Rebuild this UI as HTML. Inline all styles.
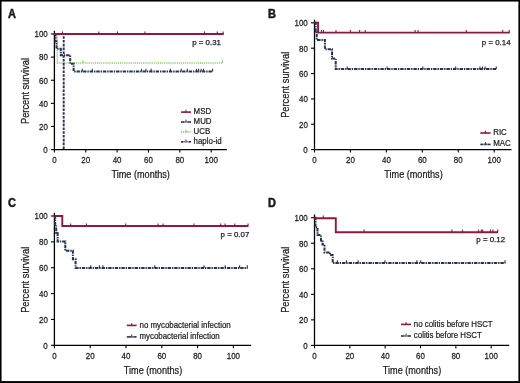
<!DOCTYPE html>
<html><head><meta charset="utf-8"><style>
html,body{margin:0;padding:0;background:#fff;}
body{width:520px;height:383px;overflow:hidden;}
svg{display:block;filter:saturate(1);}
text{font-family:"Liberation Sans", sans-serif;fill:#1a1a1a;stroke:#1a1a1a;stroke-width:0.25px;}
</style></head><body>
<svg width="520" height="383" viewBox="0 0 520 383">
<rect x="0" y="0" width="520" height="383" fill="#fff"/>
<line x1="54.4" y1="149.6" x2="54.4" y2="30.8" stroke="#000" stroke-width="1.3"/>
<line x1="53.75" y1="149.6" x2="226.9" y2="149.6" stroke="#000" stroke-width="1.3"/>
<line x1="50.9" y1="149.60" x2="54.4" y2="149.60" stroke="#000" stroke-width="1.1"/>
<line x1="54.40" y1="149.6" x2="54.40" y2="152.6" stroke="#000" stroke-width="1.1"/>
<line x1="50.9" y1="126.48" x2="54.4" y2="126.48" stroke="#000" stroke-width="1.1"/>
<line x1="85.76" y1="149.6" x2="85.76" y2="152.6" stroke="#000" stroke-width="1.1"/>
<line x1="50.9" y1="103.36" x2="54.4" y2="103.36" stroke="#000" stroke-width="1.1"/>
<line x1="117.12" y1="149.6" x2="117.12" y2="152.6" stroke="#000" stroke-width="1.1"/>
<line x1="50.9" y1="80.24" x2="54.4" y2="80.24" stroke="#000" stroke-width="1.1"/>
<line x1="148.48" y1="149.6" x2="148.48" y2="152.6" stroke="#000" stroke-width="1.1"/>
<line x1="50.9" y1="57.12" x2="54.4" y2="57.12" stroke="#000" stroke-width="1.1"/>
<line x1="179.84" y1="149.6" x2="179.84" y2="152.6" stroke="#000" stroke-width="1.1"/>
<line x1="50.9" y1="34.00" x2="54.4" y2="34.00" stroke="#000" stroke-width="1.1"/>
<line x1="211.20" y1="149.6" x2="211.20" y2="152.6" stroke="#000" stroke-width="1.1"/>
<path d="M54.50,34.00 L57.30,34.00 L57.30,62.90 L223.00,62.90" fill="none" stroke="#8fc46a" stroke-width="1.5" stroke-dasharray="1.1,1.0"/>
<line x1="83.00" y1="62.90" x2="83.00" y2="60.30" stroke="#8fc46a" stroke-width="1.1"/>
<line x1="222.50" y1="62.90" x2="222.50" y2="60.30" stroke="#8fc46a" stroke-width="1.1"/>
<path d="M54.50,34.00 L55.50,34.00 L55.50,41.50 L56.50,41.50 L56.50,48.80 L60.80,48.80 L60.80,55.30 L70.20,55.30 L70.20,63.80 L73.60,63.80 L73.60,71.40 L213.00,71.40" fill="none" stroke="#283253" stroke-width="2.0" stroke-dasharray="3.4,0.9,1.4,0.9"/>
<line x1="82.30" y1="71.40" x2="82.30" y2="68.80" stroke="#283253" stroke-width="1.1"/>
<line x1="92.30" y1="71.40" x2="92.30" y2="68.80" stroke="#283253" stroke-width="1.1"/>
<line x1="141.50" y1="71.40" x2="141.50" y2="68.80" stroke="#283253" stroke-width="1.1"/>
<line x1="146.00" y1="71.40" x2="146.00" y2="68.80" stroke="#283253" stroke-width="1.1"/>
<line x1="151.20" y1="71.40" x2="151.20" y2="68.80" stroke="#283253" stroke-width="1.1"/>
<line x1="170.40" y1="71.40" x2="170.40" y2="68.80" stroke="#283253" stroke-width="1.1"/>
<line x1="181.20" y1="71.40" x2="181.20" y2="68.80" stroke="#283253" stroke-width="1.1"/>
<line x1="187.30" y1="71.40" x2="187.30" y2="68.80" stroke="#283253" stroke-width="1.1"/>
<line x1="196.50" y1="71.40" x2="196.50" y2="68.80" stroke="#283253" stroke-width="1.1"/>
<line x1="198.60" y1="71.40" x2="198.60" y2="68.80" stroke="#283253" stroke-width="1.1"/>
<line x1="201.20" y1="71.40" x2="201.20" y2="68.80" stroke="#283253" stroke-width="1.1"/>
<line x1="203.50" y1="71.40" x2="203.50" y2="68.80" stroke="#283253" stroke-width="1.1"/>
<line x1="212.60" y1="71.40" x2="212.60" y2="68.80" stroke="#283253" stroke-width="1.1"/>
<path d="M54.50,34.00 L63.70,34.00 L63.70,149.60" fill="none" stroke="#33275f" stroke-width="1.9" stroke-dasharray="2.6,1.2"/>
<path d="M54.50,34.00 L223.70,34.00" fill="none" stroke="#8a1b3c" stroke-width="1.9"/>
<line x1="62.50" y1="34.00" x2="62.50" y2="31.40" stroke="#8a1b3c" stroke-width="1.1"/>
<line x1="98.80" y1="34.00" x2="98.80" y2="31.40" stroke="#8a1b3c" stroke-width="1.1"/>
<line x1="117.50" y1="34.00" x2="117.50" y2="31.40" stroke="#8a1b3c" stroke-width="1.1"/>
<line x1="145.00" y1="34.00" x2="145.00" y2="31.40" stroke="#8a1b3c" stroke-width="1.1"/>
<line x1="204.50" y1="34.00" x2="204.50" y2="31.40" stroke="#8a1b3c" stroke-width="1.1"/>
<line x1="217.30" y1="34.00" x2="217.30" y2="31.40" stroke="#8a1b3c" stroke-width="1.1"/>
<line x1="223.10" y1="34.00" x2="223.10" y2="31.40" stroke="#8a1b3c" stroke-width="1.1"/>
<line x1="181" y1="112.1" x2="191" y2="112.1" stroke="#8a1b3c" stroke-width="1.6"/>
<line x1="186.0" y1="112.89999999999999" x2="186.0" y2="109.69999999999999" stroke="#8a1b3c" stroke-width="1"/>
<line x1="181.00" y1="122.0" x2="184.20" y2="122.0" stroke="#283253" stroke-width="1.6"/>
<line x1="184.40" y1="122.0" x2="185.30" y2="122.0" stroke="#283253" stroke-width="1.6"/>
<line x1="186.70" y1="122.0" x2="187.60" y2="122.0" stroke="#283253" stroke-width="1.6"/>
<line x1="187.80" y1="122.0" x2="191.00" y2="122.0" stroke="#283253" stroke-width="1.6"/>
<line x1="186.0" y1="122.8" x2="186.0" y2="119.6" stroke="#283253" stroke-width="1"/>
<line x1="181" y1="131.9" x2="191" y2="131.9" stroke="#8fc46a" stroke-width="1.6" stroke-dasharray="1.1,1.0"/>
<line x1="186.0" y1="132.70000000000002" x2="186.0" y2="129.5" stroke="#8fc46a" stroke-width="1"/>
<line x1="181.00" y1="141.8" x2="183.60" y2="141.8" stroke="#33275f" stroke-width="1.6"/>
<line x1="184.40" y1="141.8" x2="185.30" y2="141.8" stroke="#33275f" stroke-width="1.6"/>
<line x1="186.70" y1="141.8" x2="187.60" y2="141.8" stroke="#33275f" stroke-width="1.6"/>
<line x1="188.40" y1="141.8" x2="191.00" y2="141.8" stroke="#33275f" stroke-width="1.6"/>
<line x1="186.0" y1="142.60000000000002" x2="186.0" y2="139.4" stroke="#33275f" stroke-width="1"/>
<line x1="314.5" y1="149.6" x2="314.5" y2="19.650000000000002" stroke="#000" stroke-width="1.3"/>
<line x1="313.85" y1="149.6" x2="511.5" y2="149.6" stroke="#000" stroke-width="1.3"/>
<line x1="311.0" y1="149.60" x2="314.5" y2="149.60" stroke="#000" stroke-width="1.1"/>
<line x1="314.50" y1="149.6" x2="314.50" y2="152.6" stroke="#000" stroke-width="1.1"/>
<line x1="311.0" y1="124.25" x2="314.5" y2="124.25" stroke="#000" stroke-width="1.1"/>
<line x1="350.44" y1="149.6" x2="350.44" y2="152.6" stroke="#000" stroke-width="1.1"/>
<line x1="311.0" y1="98.90" x2="314.5" y2="98.90" stroke="#000" stroke-width="1.1"/>
<line x1="386.38" y1="149.6" x2="386.38" y2="152.6" stroke="#000" stroke-width="1.1"/>
<line x1="311.0" y1="73.55" x2="314.5" y2="73.55" stroke="#000" stroke-width="1.1"/>
<line x1="422.32" y1="149.6" x2="422.32" y2="152.6" stroke="#000" stroke-width="1.1"/>
<line x1="311.0" y1="48.20" x2="314.5" y2="48.20" stroke="#000" stroke-width="1.1"/>
<line x1="458.26" y1="149.6" x2="458.26" y2="152.6" stroke="#000" stroke-width="1.1"/>
<line x1="311.0" y1="22.85" x2="314.5" y2="22.85" stroke="#000" stroke-width="1.1"/>
<line x1="494.20" y1="149.6" x2="494.20" y2="152.6" stroke="#000" stroke-width="1.1"/>
<path d="M314.50,22.80 L315.70,22.80 L315.70,31.40 L316.70,31.40 L316.70,40.00 L324.90,40.00 L324.90,49.30 L332.00,49.30 L332.00,58.50 L335.70,58.50 L335.70,69.10 L496.80,69.10" fill="none" stroke="#283253" stroke-width="2.0" stroke-dasharray="3.4,0.9,1.4,0.9"/>
<line x1="347.30" y1="69.10" x2="347.30" y2="66.50" stroke="#283253" stroke-width="1.1"/>
<line x1="387.10" y1="69.10" x2="387.10" y2="66.50" stroke="#283253" stroke-width="1.1"/>
<line x1="422.80" y1="69.10" x2="422.80" y2="66.50" stroke="#283253" stroke-width="1.1"/>
<line x1="455.70" y1="69.10" x2="455.70" y2="66.50" stroke="#283253" stroke-width="1.1"/>
<line x1="479.90" y1="69.10" x2="479.90" y2="66.50" stroke="#283253" stroke-width="1.1"/>
<line x1="482.50" y1="69.10" x2="482.50" y2="66.50" stroke="#283253" stroke-width="1.1"/>
<line x1="485.10" y1="69.10" x2="485.10" y2="66.50" stroke="#283253" stroke-width="1.1"/>
<line x1="496.30" y1="69.10" x2="496.30" y2="66.50" stroke="#283253" stroke-width="1.1"/>
<path d="M314.50,22.80 L318.10,22.80 L318.10,32.60 L509.80,32.60" fill="none" stroke="#8a1b3c" stroke-width="1.9"/>
<line x1="321.50" y1="32.60" x2="321.50" y2="30.00" stroke="#8a1b3c" stroke-width="1.1"/>
<line x1="323.50" y1="32.60" x2="323.50" y2="30.00" stroke="#8a1b3c" stroke-width="1.1"/>
<line x1="336.00" y1="32.60" x2="336.00" y2="30.00" stroke="#8a1b3c" stroke-width="1.1"/>
<line x1="350.40" y1="32.60" x2="350.40" y2="30.00" stroke="#8a1b3c" stroke-width="1.1"/>
<line x1="359.60" y1="32.60" x2="359.60" y2="30.00" stroke="#8a1b3c" stroke-width="1.1"/>
<line x1="365.20" y1="32.60" x2="365.20" y2="30.00" stroke="#8a1b3c" stroke-width="1.1"/>
<line x1="415.10" y1="32.60" x2="415.10" y2="30.00" stroke="#8a1b3c" stroke-width="1.1"/>
<line x1="418.10" y1="32.60" x2="418.10" y2="30.00" stroke="#8a1b3c" stroke-width="1.1"/>
<line x1="466.30" y1="32.60" x2="466.30" y2="30.00" stroke="#8a1b3c" stroke-width="1.1"/>
<line x1="502.70" y1="32.60" x2="502.70" y2="30.00" stroke="#8a1b3c" stroke-width="1.1"/>
<line x1="509.20" y1="32.60" x2="509.20" y2="30.00" stroke="#8a1b3c" stroke-width="1.1"/>
<line x1="480.3" y1="133.0" x2="490.6" y2="133.0" stroke="#8a1b3c" stroke-width="1.6"/>
<line x1="485.45000000000005" y1="133.8" x2="485.45000000000005" y2="130.6" stroke="#8a1b3c" stroke-width="1"/>
<line x1="480.30" y1="144.4" x2="483.50" y2="144.4" stroke="#283253" stroke-width="1.6"/>
<line x1="483.85" y1="144.4" x2="484.75" y2="144.4" stroke="#283253" stroke-width="1.6"/>
<line x1="486.15" y1="144.4" x2="487.05" y2="144.4" stroke="#283253" stroke-width="1.6"/>
<line x1="487.40" y1="144.4" x2="490.60" y2="144.4" stroke="#283253" stroke-width="1.6"/>
<line x1="485.45000000000005" y1="145.20000000000002" x2="485.45000000000005" y2="142.0" stroke="#283253" stroke-width="1"/>
<line x1="54.4" y1="345.3" x2="54.4" y2="212.8" stroke="#000" stroke-width="1.3"/>
<line x1="53.75" y1="345.3" x2="251.1" y2="345.3" stroke="#000" stroke-width="1.3"/>
<line x1="50.9" y1="345.30" x2="54.4" y2="345.30" stroke="#000" stroke-width="1.1"/>
<line x1="54.40" y1="345.3" x2="54.40" y2="348.3" stroke="#000" stroke-width="1.1"/>
<line x1="50.9" y1="319.44" x2="54.4" y2="319.44" stroke="#000" stroke-width="1.1"/>
<line x1="90.20" y1="345.3" x2="90.20" y2="348.3" stroke="#000" stroke-width="1.1"/>
<line x1="50.9" y1="293.58" x2="54.4" y2="293.58" stroke="#000" stroke-width="1.1"/>
<line x1="126.00" y1="345.3" x2="126.00" y2="348.3" stroke="#000" stroke-width="1.1"/>
<line x1="50.9" y1="267.72" x2="54.4" y2="267.72" stroke="#000" stroke-width="1.1"/>
<line x1="161.80" y1="345.3" x2="161.80" y2="348.3" stroke="#000" stroke-width="1.1"/>
<line x1="50.9" y1="241.86" x2="54.4" y2="241.86" stroke="#000" stroke-width="1.1"/>
<line x1="197.60" y1="345.3" x2="197.60" y2="348.3" stroke="#000" stroke-width="1.1"/>
<line x1="50.9" y1="216.00" x2="54.4" y2="216.00" stroke="#000" stroke-width="1.1"/>
<line x1="233.40" y1="345.3" x2="233.40" y2="348.3" stroke="#000" stroke-width="1.1"/>
<path d="M54.50,216.00 L55.20,216.00 L55.20,224.80 L56.20,224.80 L56.20,233.00 L57.60,233.00 L57.60,241.40 L65.30,241.40 L65.30,250.70 L72.90,250.70 L72.90,259.20 L75.60,259.20 L75.60,267.90 L247.70,267.90" fill="none" stroke="#283253" stroke-width="2.0" stroke-dasharray="3.4,0.9,1.4,0.9"/>
<line x1="90.80" y1="267.90" x2="90.80" y2="265.30" stroke="#283253" stroke-width="1.1"/>
<line x1="99.40" y1="267.90" x2="99.40" y2="265.30" stroke="#283253" stroke-width="1.1"/>
<line x1="102.90" y1="267.90" x2="102.90" y2="265.30" stroke="#283253" stroke-width="1.1"/>
<line x1="154.80" y1="267.90" x2="154.80" y2="265.30" stroke="#283253" stroke-width="1.1"/>
<line x1="204.00" y1="267.90" x2="204.00" y2="265.30" stroke="#283253" stroke-width="1.1"/>
<line x1="225.20" y1="267.90" x2="225.20" y2="265.30" stroke="#283253" stroke-width="1.1"/>
<line x1="239.60" y1="267.90" x2="239.60" y2="265.30" stroke="#283253" stroke-width="1.1"/>
<line x1="247.30" y1="267.90" x2="247.30" y2="265.30" stroke="#283253" stroke-width="1.1"/>
<path d="M54.50,216.00 L62.30,216.00 L62.30,226.00 L248.40,226.00" fill="none" stroke="#8a1b3c" stroke-width="1.9"/>
<line x1="70.70" y1="226.00" x2="70.70" y2="223.40" stroke="#8a1b3c" stroke-width="1.1"/>
<line x1="86.40" y1="226.00" x2="86.40" y2="223.40" stroke="#8a1b3c" stroke-width="1.1"/>
<line x1="125.70" y1="226.00" x2="125.70" y2="223.40" stroke="#8a1b3c" stroke-width="1.1"/>
<line x1="158.10" y1="226.00" x2="158.10" y2="223.40" stroke="#8a1b3c" stroke-width="1.1"/>
<line x1="163.10" y1="226.00" x2="163.10" y2="223.40" stroke="#8a1b3c" stroke-width="1.1"/>
<line x1="194.00" y1="226.00" x2="194.00" y2="223.40" stroke="#8a1b3c" stroke-width="1.1"/>
<line x1="220.70" y1="226.00" x2="220.70" y2="223.40" stroke="#8a1b3c" stroke-width="1.1"/>
<line x1="225.10" y1="226.00" x2="225.10" y2="223.40" stroke="#8a1b3c" stroke-width="1.1"/>
<line x1="234.80" y1="226.00" x2="234.80" y2="223.40" stroke="#8a1b3c" stroke-width="1.1"/>
<line x1="248.00" y1="226.00" x2="248.00" y2="223.40" stroke="#8a1b3c" stroke-width="1.1"/>
<line x1="126.8" y1="325.4" x2="136.6" y2="325.4" stroke="#8a1b3c" stroke-width="1.6"/>
<line x1="131.7" y1="326.2" x2="131.7" y2="323.0" stroke="#8a1b3c" stroke-width="1"/>
<line x1="126.80" y1="336.9" x2="130.00" y2="336.9" stroke="#283253" stroke-width="1.6"/>
<line x1="130.10" y1="336.9" x2="131.00" y2="336.9" stroke="#283253" stroke-width="1.6"/>
<line x1="132.40" y1="336.9" x2="133.30" y2="336.9" stroke="#283253" stroke-width="1.6"/>
<line x1="133.40" y1="336.9" x2="136.60" y2="336.9" stroke="#283253" stroke-width="1.6"/>
<line x1="131.7" y1="337.7" x2="131.7" y2="334.5" stroke="#283253" stroke-width="1"/>
<line x1="314.5" y1="345.4" x2="314.5" y2="214.5" stroke="#000" stroke-width="1.3"/>
<line x1="313.85" y1="345.4" x2="509.2" y2="345.4" stroke="#000" stroke-width="1.3"/>
<line x1="311.0" y1="345.40" x2="314.5" y2="345.40" stroke="#000" stroke-width="1.1"/>
<line x1="314.50" y1="345.4" x2="314.50" y2="348.4" stroke="#000" stroke-width="1.1"/>
<line x1="311.0" y1="319.86" x2="314.5" y2="319.86" stroke="#000" stroke-width="1.1"/>
<line x1="349.84" y1="345.4" x2="349.84" y2="348.4" stroke="#000" stroke-width="1.1"/>
<line x1="311.0" y1="294.32" x2="314.5" y2="294.32" stroke="#000" stroke-width="1.1"/>
<line x1="385.18" y1="345.4" x2="385.18" y2="348.4" stroke="#000" stroke-width="1.1"/>
<line x1="311.0" y1="268.78" x2="314.5" y2="268.78" stroke="#000" stroke-width="1.1"/>
<line x1="420.52" y1="345.4" x2="420.52" y2="348.4" stroke="#000" stroke-width="1.1"/>
<line x1="311.0" y1="243.24" x2="314.5" y2="243.24" stroke="#000" stroke-width="1.1"/>
<line x1="455.86" y1="345.4" x2="455.86" y2="348.4" stroke="#000" stroke-width="1.1"/>
<line x1="311.0" y1="217.70" x2="314.5" y2="217.70" stroke="#000" stroke-width="1.1"/>
<line x1="491.20" y1="345.4" x2="491.20" y2="348.4" stroke="#000" stroke-width="1.1"/>
<path d="M314.50,217.80 L315.50,217.80 L315.50,227.50 L317.50,227.50 L317.50,235.00 L321.00,235.00 L321.00,240.50 L322.50,240.50 L322.50,244.50 L324.50,244.50 L324.50,252.40 L330.00,252.40 L330.00,255.00 L332.70,255.00 L332.70,262.90 L505.40,262.90" fill="none" stroke="#283253" stroke-width="2.0" stroke-dasharray="3.4,0.9,1.4,0.9"/>
<line x1="337.30" y1="262.90" x2="337.30" y2="260.30" stroke="#283253" stroke-width="1.1"/>
<line x1="346.40" y1="262.90" x2="346.40" y2="260.30" stroke="#283253" stroke-width="1.1"/>
<line x1="358.20" y1="262.90" x2="358.20" y2="260.30" stroke="#283253" stroke-width="1.1"/>
<line x1="385.00" y1="262.90" x2="385.00" y2="260.30" stroke="#283253" stroke-width="1.1"/>
<line x1="416.90" y1="262.90" x2="416.90" y2="260.30" stroke="#283253" stroke-width="1.1"/>
<line x1="420.80" y1="262.90" x2="420.80" y2="260.30" stroke="#283253" stroke-width="1.1"/>
<line x1="505.00" y1="262.90" x2="505.00" y2="260.30" stroke="#283253" stroke-width="1.1"/>
<path d="M314.50,218.20 L335.80,218.20 L335.80,232.20 L498.10,232.20" fill="none" stroke="#8a1b3c" stroke-width="1.9"/>
<line x1="323.30" y1="218.20" x2="323.30" y2="215.60" stroke="#8a1b3c" stroke-width="1.1"/>
<line x1="364.10" y1="232.20" x2="364.10" y2="229.60" stroke="#8a1b3c" stroke-width="1.1"/>
<line x1="451.90" y1="232.20" x2="451.90" y2="229.60" stroke="#8a1b3c" stroke-width="1.1"/>
<line x1="462.50" y1="232.20" x2="462.50" y2="229.60" stroke="#8a1b3c" stroke-width="1.1"/>
<line x1="478.50" y1="232.20" x2="478.50" y2="229.60" stroke="#8a1b3c" stroke-width="1.1"/>
<line x1="481.30" y1="232.20" x2="481.30" y2="229.60" stroke="#8a1b3c" stroke-width="1.1"/>
<line x1="482.70" y1="232.20" x2="482.70" y2="229.60" stroke="#8a1b3c" stroke-width="1.1"/>
<line x1="490.40" y1="232.20" x2="490.40" y2="229.60" stroke="#8a1b3c" stroke-width="1.1"/>
<line x1="492.90" y1="232.20" x2="492.90" y2="229.60" stroke="#8a1b3c" stroke-width="1.1"/>
<line x1="497.70" y1="232.20" x2="497.70" y2="229.60" stroke="#8a1b3c" stroke-width="1.1"/>
<line x1="401" y1="324.4" x2="411" y2="324.4" stroke="#8a1b3c" stroke-width="1.6"/>
<line x1="406.0" y1="325.2" x2="406.0" y2="322.0" stroke="#8a1b3c" stroke-width="1"/>
<line x1="401.00" y1="336.0" x2="404.20" y2="336.0" stroke="#283253" stroke-width="1.6"/>
<line x1="404.40" y1="336.0" x2="405.30" y2="336.0" stroke="#283253" stroke-width="1.6"/>
<line x1="406.70" y1="336.0" x2="407.60" y2="336.0" stroke="#283253" stroke-width="1.6"/>
<line x1="407.80" y1="336.0" x2="411.00" y2="336.0" stroke="#283253" stroke-width="1.6"/>
<line x1="406.0" y1="336.8" x2="406.0" y2="333.6" stroke="#283253" stroke-width="1"/>
<g id="txt">
<text transform="translate(7.90,17.60) scale(0.9,1)" font-size="12.2" text-anchor="start" font-weight="bold" style="stroke:#1a1a1a;stroke-width:0.5px">A</text>
<text transform="translate(47.80,152.90) scale(0.82,1)" font-size="9.7" text-anchor="end">0</text>
<text transform="translate(54.40,163.00) scale(0.82,1)" font-size="9.7" text-anchor="middle">0</text>
<text transform="translate(47.80,129.78) scale(0.82,1)" font-size="9.7" text-anchor="end">20</text>
<text transform="translate(85.76,163.00) scale(0.82,1)" font-size="9.7" text-anchor="middle">20</text>
<text transform="translate(47.80,106.66) scale(0.82,1)" font-size="9.7" text-anchor="end">40</text>
<text transform="translate(117.12,163.00) scale(0.82,1)" font-size="9.7" text-anchor="middle">40</text>
<text transform="translate(47.80,83.54) scale(0.82,1)" font-size="9.7" text-anchor="end">60</text>
<text transform="translate(148.48,163.00) scale(0.82,1)" font-size="9.7" text-anchor="middle">60</text>
<text transform="translate(47.80,60.42) scale(0.82,1)" font-size="9.7" text-anchor="end">80</text>
<text transform="translate(179.84,163.00) scale(0.82,1)" font-size="9.7" text-anchor="middle">80</text>
<text transform="translate(47.80,37.30) scale(0.82,1)" font-size="9.7" text-anchor="end">100</text>
<text transform="translate(211.20,163.00) scale(0.82,1)" font-size="9.7" text-anchor="middle">100</text>
<text transform="translate(140.70,177.60) scale(0.83,1)" font-size="11" text-anchor="middle">Time (months)</text>
<text transform="translate(29.20,91.00) rotate(-90) scale(0.845,1)" font-size="11" text-anchor="middle">Percent survival</text>
<text transform="translate(192.20,44.90) scale(1.0,1)" font-size="7.9" text-anchor="start" style="stroke-width:0.25px">p = 0.31</text>
<text transform="translate(193.60,114.00) scale(0.94,1)" font-size="8.4" text-anchor="start" style="stroke-width:0.2px">MSD</text>
<text transform="translate(193.60,123.90) scale(0.94,1)" font-size="8.4" text-anchor="start" style="stroke-width:0.2px">MUD</text>
<text transform="translate(193.60,133.80) scale(0.94,1)" font-size="8.4" text-anchor="start" style="stroke-width:0.2px">UCB</text>
<text transform="translate(193.60,143.70) scale(0.94,1)" font-size="8.4" text-anchor="start" style="stroke-width:0.2px">haplo-id</text>
<text transform="translate(268.10,17.80) scale(0.9,1)" font-size="12.2" text-anchor="start" font-weight="bold" style="stroke:#1a1a1a;stroke-width:0.5px">B</text>
<text transform="translate(307.80,152.90) scale(0.82,1)" font-size="9.7" text-anchor="end">0</text>
<text transform="translate(314.50,163.00) scale(0.82,1)" font-size="9.7" text-anchor="middle">0</text>
<text transform="translate(307.80,127.55) scale(0.82,1)" font-size="9.7" text-anchor="end">20</text>
<text transform="translate(350.44,163.00) scale(0.82,1)" font-size="9.7" text-anchor="middle">20</text>
<text transform="translate(307.80,102.20) scale(0.82,1)" font-size="9.7" text-anchor="end">40</text>
<text transform="translate(386.38,163.00) scale(0.82,1)" font-size="9.7" text-anchor="middle">40</text>
<text transform="translate(307.80,76.85) scale(0.82,1)" font-size="9.7" text-anchor="end">60</text>
<text transform="translate(422.32,163.00) scale(0.82,1)" font-size="9.7" text-anchor="middle">60</text>
<text transform="translate(307.80,51.50) scale(0.82,1)" font-size="9.7" text-anchor="end">80</text>
<text transform="translate(458.26,163.00) scale(0.82,1)" font-size="9.7" text-anchor="middle">80</text>
<text transform="translate(307.80,26.15) scale(0.82,1)" font-size="9.7" text-anchor="end">100</text>
<text transform="translate(494.20,163.00) scale(0.82,1)" font-size="9.7" text-anchor="middle">100</text>
<text transform="translate(413.50,177.60) scale(0.83,1)" font-size="11" text-anchor="middle">Time (months)</text>
<text transform="translate(288.50,84.80) rotate(-90) scale(0.845,1)" font-size="11" text-anchor="middle">Percent survival</text>
<text transform="translate(481.80,44.70) scale(1.0,1)" font-size="7.9" text-anchor="start" style="stroke-width:0.25px">p = 0.14</text>
<text transform="translate(493.20,134.70) scale(0.94,1)" font-size="8.4" text-anchor="start" style="stroke-width:0.2px">RIC</text>
<text transform="translate(493.20,146.10) scale(0.94,1)" font-size="8.4" text-anchor="start" style="stroke-width:0.2px">MAC</text>
<text transform="translate(7.90,206.80) scale(0.9,1)" font-size="12.2" text-anchor="start" font-weight="bold" style="stroke:#1a1a1a;stroke-width:0.5px">C</text>
<text transform="translate(47.80,348.60) scale(0.82,1)" font-size="9.7" text-anchor="end">0</text>
<text transform="translate(54.40,359.00) scale(0.82,1)" font-size="9.7" text-anchor="middle">0</text>
<text transform="translate(47.80,322.74) scale(0.82,1)" font-size="9.7" text-anchor="end">20</text>
<text transform="translate(90.20,359.00) scale(0.82,1)" font-size="9.7" text-anchor="middle">20</text>
<text transform="translate(47.80,296.88) scale(0.82,1)" font-size="9.7" text-anchor="end">40</text>
<text transform="translate(126.00,359.00) scale(0.82,1)" font-size="9.7" text-anchor="middle">40</text>
<text transform="translate(47.80,271.02) scale(0.82,1)" font-size="9.7" text-anchor="end">60</text>
<text transform="translate(161.80,359.00) scale(0.82,1)" font-size="9.7" text-anchor="middle">60</text>
<text transform="translate(47.80,245.16) scale(0.82,1)" font-size="9.7" text-anchor="end">80</text>
<text transform="translate(197.60,359.00) scale(0.82,1)" font-size="9.7" text-anchor="middle">80</text>
<text transform="translate(47.80,219.30) scale(0.82,1)" font-size="9.7" text-anchor="end">100</text>
<text transform="translate(233.40,359.00) scale(0.82,1)" font-size="9.7" text-anchor="middle">100</text>
<text transform="translate(153.00,373.60) scale(0.83,1)" font-size="11" text-anchor="middle">Time (months)</text>
<text transform="translate(29.00,279.80) rotate(-90) scale(0.845,1)" font-size="11" text-anchor="middle">Percent survival</text>
<text transform="translate(220.60,237.30) scale(1.0,1)" font-size="7.9" text-anchor="start" style="stroke-width:0.25px">p = 0.07</text>
<text transform="translate(139.50,327.90) scale(0.94,1)" font-size="8.4" text-anchor="start" style="stroke-width:0.2px">no mycobacterial infection</text>
<text transform="translate(139.50,339.40) scale(0.94,1)" font-size="8.4" text-anchor="start" style="stroke-width:0.2px">mycobacterial infection</text>
<text transform="translate(268.10,206.80) scale(0.9,1)" font-size="12.2" text-anchor="start" font-weight="bold" style="stroke:#1a1a1a;stroke-width:0.5px">D</text>
<text transform="translate(307.80,348.70) scale(0.82,1)" font-size="9.7" text-anchor="end">0</text>
<text transform="translate(314.50,359.00) scale(0.82,1)" font-size="9.7" text-anchor="middle">0</text>
<text transform="translate(307.80,323.16) scale(0.82,1)" font-size="9.7" text-anchor="end">20</text>
<text transform="translate(349.84,359.00) scale(0.82,1)" font-size="9.7" text-anchor="middle">20</text>
<text transform="translate(307.80,297.62) scale(0.82,1)" font-size="9.7" text-anchor="end">40</text>
<text transform="translate(385.18,359.00) scale(0.82,1)" font-size="9.7" text-anchor="middle">40</text>
<text transform="translate(307.80,272.08) scale(0.82,1)" font-size="9.7" text-anchor="end">60</text>
<text transform="translate(420.52,359.00) scale(0.82,1)" font-size="9.7" text-anchor="middle">60</text>
<text transform="translate(307.80,246.54) scale(0.82,1)" font-size="9.7" text-anchor="end">80</text>
<text transform="translate(455.86,359.00) scale(0.82,1)" font-size="9.7" text-anchor="middle">80</text>
<text transform="translate(307.80,221.00) scale(0.82,1)" font-size="9.7" text-anchor="end">100</text>
<text transform="translate(491.20,359.00) scale(0.82,1)" font-size="9.7" text-anchor="middle">100</text>
<text transform="translate(412.00,373.60) scale(0.83,1)" font-size="11" text-anchor="middle">Time (months)</text>
<text transform="translate(289.00,279.80) rotate(-90) scale(0.845,1)" font-size="11" text-anchor="middle">Percent survival</text>
<text transform="translate(476.30,241.60) scale(1.0,1)" font-size="7.9" text-anchor="start" style="stroke-width:0.25px">p = 0.12</text>
<text transform="translate(413.80,326.80) scale(0.94,1)" font-size="8.4" text-anchor="start" style="stroke-width:0.2px">no colitis before HSCT</text>
<text transform="translate(413.80,338.40) scale(0.94,1)" font-size="8.4" text-anchor="start" style="stroke-width:0.2px">colitis before HSCT</text>
</g>
<rect x="0" y="0" width="520" height="1.55" fill="#000"/>
<rect x="0" y="0" width="1.55" height="383" fill="#000"/>
<rect x="518.4" y="0" width="1.6" height="383" fill="#000"/>
<rect x="0" y="381.1" width="520" height="1.9" fill="#000"/>
</svg>
</body></html>
